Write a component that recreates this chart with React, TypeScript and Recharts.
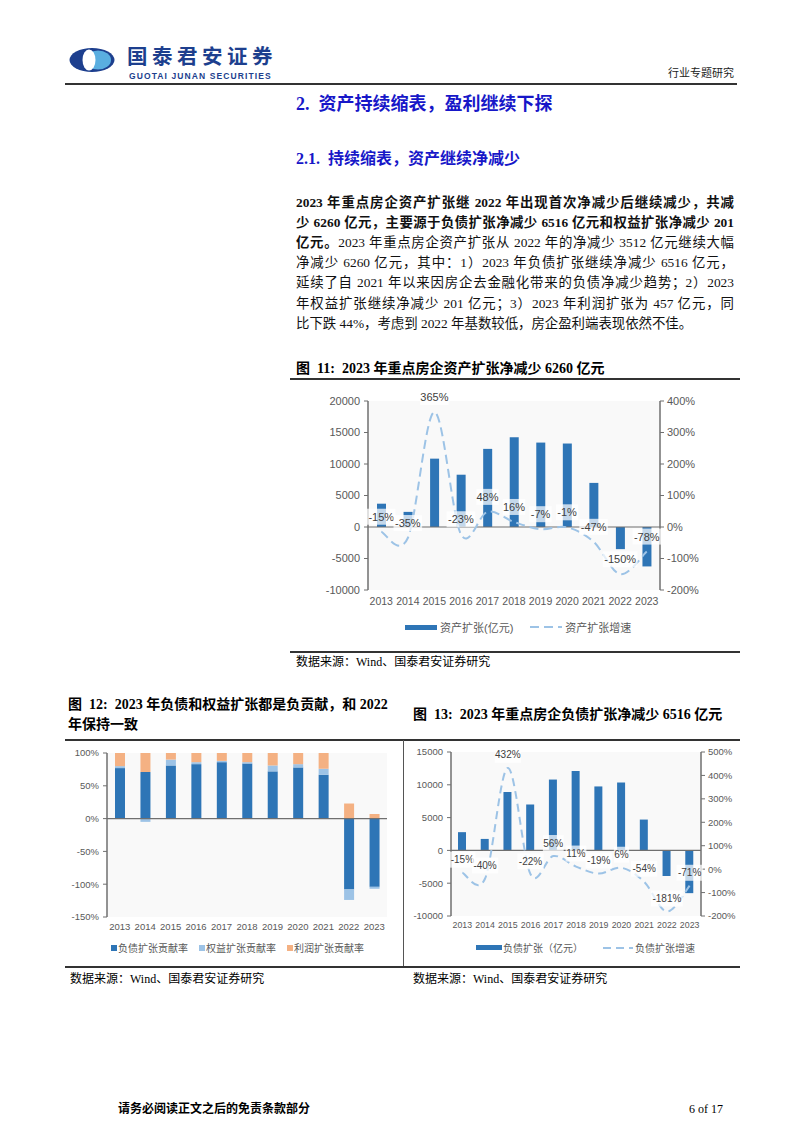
import React from 'react'
import {
  ComposedChart, BarChart, Bar, Line, XAxis, YAxis, CartesianGrid,
  ReferenceLine, LabelList,
} from 'recharts'

// ---- data ----
const years = ['2013', '2014', '2015', '2016', '2017', '2018', '2019', '2020', '2021', '2022', '2023']

// 图11 资产扩张 (亿元) / 增速 (%)
const assetExpansion = [3700, 2400, 10850, 8300, 12400, 14250, 13400, 13250, 7000, -3512, -6260]
const assetGrowth = [-15, -35, 365, -23, 48, 16, -7, -1, -47, -150, -78]

// 图12 贡献率 (%)
const liabShare = [77, 71, 81, 83, 86, 84, 72, 78, 67, -108, -104]
const equityShare = [3, -5, 9, 3, 2, 2, 9, 5, 9, -16, -3]
const profitShare = [20, 29, 10, 14, 12, 14, 19, 17, 24, 23, 7]

// 图13 负债扩张 (亿元) / 增速 (%)
const liabExpansion = [2780, 1750, 8900, 7000, 10800, 12100, 9750, 10350, 4700, -3900, -6516]
const liabGrowth = [-15, -40, 432, -22, 56, 11, -19, 6, -54, -181, -71]

const leftTicks11 = [-10000, -5000, 0, 5000, 10000, 15000, 20000]
const rightTicks11 = [-200, -100, 0, 100, 200, 300, 400]
const ticks12 = [-150, -100, -50, 0, 50, 100]
const leftTicks13 = [-10000, -5000, 0, 5000, 10000, 15000]
const rightTicks13 = [-200, -100, 0, 100, 200, 300, 400, 500]

const assetData = years.map((year, i) => ({ year, asset: assetExpansion[i], growth: assetGrowth[i] }))
const shareData = years.map((year, i) => ({ year, liab: liabShare[i], equity: equityShare[i], profit: profitShare[i] }))
const liabData = years.map((year, i) => ({ year, liab: liabExpansion[i], growth: liabGrowth[i] }))

const BLUE = '#2e75b6'
const LIGHT = '#9dc3e6'
const ORANGE = '#f4b183'
const AXIS = '#6f6f6f'
const TICK = '#595959'
const PLOT_BG = '#f9f9f9'
const SANS = '"Liberation Sans", Arial, "Noto Sans CJK SC", sans-serif'
const SERIF = '"Liberation Serif", "Times New Roman", "Noto Sans CJK SC", serif'

// Excel-style smoothed line (Catmull-Rom through the points)
function excelSmooth(context: any) {
  let pts: number[][] = []
  return {
    areaStart() {},
    areaEnd() {},
    lineStart() { pts = [] },
    point(x: number, y: number) { pts.push([+x, +y]) },
    lineEnd() {
      if (!pts.length) return
      context.moveTo(pts[0][0], pts[0][1])
      for (let i = 0; i < pts.length - 1; i++) {
        const p0 = pts[i - 1] || pts[i]
        const p1 = pts[i]
        const p2 = pts[i + 1]
        const p3 = pts[i + 2] || p2
        const t = 1 / 6
        context.bezierCurveTo(
          p1[0] + (p2[0] - p0[0]) * t, p1[1] + (p2[1] - p0[1]) * t,
          p2[0] - (p3[0] - p1[0]) * t, p2[1] - (p3[1] - p1[1]) * t,
          p2[0], p2[1],
        )
      }
    },
  }
}

function boxLabel(dy: number, fontSize: number) {
  return (props: any) => {
    const x = props.x ?? props.viewBox?.x
    const y = props.y ?? props.viewBox?.y
    if (x == null || y == null) return null
    const text = `${props.value}%`
    const w = text.length * fontSize * 0.56 + 4
    const cy = y - dy
    return (
      <g>
        <rect x={x - w / 2} y={cy - 8} width={w} height={16} fill="#fff" fillOpacity={0.72} />
        <text x={x} y={cy} textAnchor="middle" dominantBaseline="central" fontSize={fontSize} fill="#404040" fontFamily={SANS}>
          {text}
        </text>
      </g>
    )
  }
}

const pct = (v: number) => `${v}%`

function T({ x, y, size = 14, bold = false, color = '#000', font = SERIF, children, style }: any) {
  return (
    <div style={{
      position: 'absolute', left: x, top: y - size * 0.65, fontSize: size, lineHeight: `${size * 1.3}px`,
      fontWeight: bold ? 700 : 400, color, fontFamily: font, whiteSpace: 'nowrap', ...style,
    }}>
      {children}
    </div>
  )
}

function HLine({ x1, x2, y, w = 1.5, c = '#333' }: any) {
  return <div style={{ position: 'absolute', left: x1, top: y - w / 2, width: x2 - x1, height: w, background: c }} />
}

function Para({ y, bold, children, last }: any) {
  return (
    <div style={{
      position: 'absolute', left: 296, top: y - 10, width: 438, fontSize: 13.4, lineHeight: '20px',
      fontFamily: SERIF, fontWeight: bold ? 700 : 400, color: '#111',
      textAlign: 'justify', textAlignLast: last ? 'left' : 'justify',
    }}>
      {children}
    </div>
  )
}

function AssetChart() {
  return (
    <ComposedChart width={450} height={230} data={assetData} margin={{ top: 16, right: 0, left: 0, bottom: 5 }}>
      <CartesianGrid horizontal={false} vertical={false} fill={PLOT_BG} />
      <XAxis dataKey="year" interval={0} axisLine={false} tickLine={false} height={20}
             tick={{ fontSize: 10.5, fill: TICK, fontFamily: SANS }} />
      <YAxis width={78} domain={[-10000, 20000]} ticks={leftTicks11} interval={0}
             axisLine={{ stroke: AXIS, strokeWidth: 1.5 }} tickLine={{ stroke: AXIS }} tickSize={4} tickMargin={4}
             tick={{ fontSize: 11, fill: TICK, fontFamily: SANS }} />
      <YAxis yAxisId="right" orientation="right" width={80} domain={[-200, 400]} ticks={rightTicks11} interval={0}
             tickFormatter={pct} axisLine={{ stroke: AXIS, strokeWidth: 1.5 }} tickLine={{ stroke: AXIS }}
             tickSize={4} tickMargin={3} tick={{ fontSize: 11, fill: TICK, fontFamily: SANS }} />
      <ReferenceLine y={0} stroke={AXIS} strokeWidth={1.2} />
      <Bar dataKey="asset" fill={BLUE} barSize={9} isAnimationActive={false} />
      <Line yAxisId="right" dataKey="growth" type={excelSmooth as any} stroke={LIGHT} strokeWidth={2}
            strokeDasharray="9 5" dot={false} activeDot={false} isAnimationActive={false}>
        <LabelList dataKey="growth" content={boxLabel(15, 11)} />
      </Line>
    </ComposedChart>
  )
}

function ShareChart() {
  return (
    <BarChart width={335} height={200} data={shareData} stackOffset="sign" margin={{ top: 11, right: 13, left: 0, bottom: 5 }}>
      <CartesianGrid horizontal={false} vertical={false} fill={PLOT_BG} />
      <XAxis dataKey="year" interval={0} axisLine={false} tickLine={false} height={20} tickMargin={0}
             tick={{ fontSize: 9.5, fill: TICK, fontFamily: SANS }} />
      <YAxis width={42} domain={[-150, 100]} ticks={ticks12} interval={0} tickFormatter={pct}
             axisLine={{ stroke: AXIS, strokeWidth: 1.5 }} tickLine={{ stroke: AXIS }} tickSize={4} tickMargin={4}
             tick={{ fontSize: 9.5, fill: TICK, fontFamily: SANS }} />
      <ReferenceLine y={0} stroke={AXIS} strokeWidth={1.2} />
      <Bar dataKey="liab" stackId="a" fill={BLUE} barSize={10} isAnimationActive={false} />
      <Bar dataKey="equity" stackId="a" fill={LIGHT} barSize={10} isAnimationActive={false} />
      <Bar dataKey="profit" stackId="a" fill={ORANGE} barSize={10} isAnimationActive={false} />
    </BarChart>
  )
}

function LiabChart() {
  return (
    <ComposedChart width={335} height={200} data={liabData} margin={{ top: 10, right: 0, left: 0, bottom: 6 }}>
      <CartesianGrid horizontal={false} vertical={false} fill={PLOT_BG} />
      <XAxis dataKey="year" interval={0} axisLine={false} tickLine={false} height={20} tickMargin={0}
             tick={{ fontSize: 8.8, fill: TICK, fontFamily: SANS }} />
      <YAxis width={46} domain={[-10000, 15000]} ticks={leftTicks13} interval={0}
             axisLine={{ stroke: AXIS, strokeWidth: 1.5 }} tickLine={{ stroke: AXIS }} tickSize={4} tickMargin={4}
             tick={{ fontSize: 9.5, fill: TICK, fontFamily: SANS }} />
      <YAxis yAxisId="right" orientation="right" width={39} domain={[-200, 500]} ticks={rightTicks13} interval={0}
             tickFormatter={pct} axisLine={{ stroke: AXIS, strokeWidth: 1.5 }} tickLine={{ stroke: AXIS }}
             tickSize={4} tickMargin={3} tick={{ fontSize: 9.5, fill: TICK, fontFamily: SANS }} />
      <ReferenceLine y={0} stroke={AXIS} strokeWidth={1.2} />
      <Bar dataKey="liab" fill={BLUE} barSize={8} isAnimationActive={false} />
      <Line yAxisId="right" dataKey="growth" type={excelSmooth as any} stroke={LIGHT} strokeWidth={2}
            strokeDasharray="8 5" dot={false} activeDot={false} isAnimationActive={false}>
        <LabelList dataKey="growth" content={boxLabel(13, 10)} />
      </Line>
    </ComposedChart>
  )
}

const legendText = { fontFamily: SANS, fontSize: 11, color: TICK }

function Logo() {
  return (
    <svg width={46} height={26} style={{ position: 'absolute', left: 69, top: 47 }}>
      <ellipse cx={23} cy={13} rx={22.5} ry={12} fill="#1d3f8e" />
      <ellipse cx={29} cy={13} rx={13} ry={9.5} fill="#5aaee0" />
      <ellipse cx={20} cy={13} rx={6.5} ry={10.5} fill="#fff" />
    </svg>
  )
}

export default function App() {
  return (
    <div style={{ position: 'absolute', left: 0, top: 0, width: 802, height: 1133, background: '#fff', fontFamily: SERIF }}>
      {/* header */}
      <Logo />
      <T x={127} y={55} size={20.5} bold color="#1d3f8e" font={'"Noto Sans CJK SC", sans-serif'} style={{ letterSpacing: 4.5 }}>国泰君安证券</T>
      <T x={129} y={76.5} size={8.5} bold color="#1d3f8e" font={SANS} style={{ letterSpacing: 1.1 }}>GUOTAI JUNAN SECURITIES</T>
      <T x={668} y={73} size={11} color="#222">行业专题研究</T>
      <HLine x1={65} x2={737} y={84} />

      {/* section titles */}
      <T x={296} y={105} size={18} bold color="#1717c8">2.&nbsp;&nbsp;资产持续缩表，盈利继续下探</T>
      <T x={296} y={159} size={16} bold color="#1717c8">2.1.&nbsp;&nbsp;持续缩表，资产继续净减少</T>

      {/* paragraph */}
      <Para y={203} bold>2023 年重点房企资产扩张继 2022 年出现首次净减少后继续减少，共减</Para>
      <Para y={223} bold>少 6260 亿元，主要源于负债扩张净减少 6516 亿元和权益扩张净减少 201</Para>
      <Para y={243}><b>亿元。</b>2023 年重点房企资产扩张从 2022 年的净减少 3512 亿元继续大幅</Para>
      <Para y={263}>净减少 6260 亿元，其中：1）2023 年负债扩张继续净减少 6516 亿元，</Para>
      <Para y={283}>延续了自 2021 年以来因房企去金融化带来的负债净减少趋势；2）2023</Para>
      <Para y={304}>年权益扩张继续净减少 201 亿元；3）2023 年利润扩张为 457 亿元，同</Para>
      <Para y={324} last>比下跌 44%，考虑到 2022 年基数较低，房企盈利端表现依然不佳。</Para>

      {/* figure 11 */}
      <T x={296} y={369} size={14} bold>图&nbsp;&nbsp;11:&nbsp;&nbsp;2023 年重点房企资产扩张净减少 6260 亿元</T>
      <HLine x1={290} x2={740} y={379} />
      <div style={{ position: 'absolute', left: 290, top: 385 }}>
        <AssetChart />
      </div>
      <div style={{ position: 'absolute', left: 405, top: 619, display: 'flex', alignItems: 'center', ...legendText }}>
        <span style={{ width: 32, height: 5, background: BLUE, marginRight: 3 }} />
        <span>资产扩张(亿元)</span>
        <svg width={32} height={6} style={{ marginLeft: 17, marginRight: 3 }}>
          <line x1={0} y1={3} x2={32} y2={3} stroke={LIGHT} strokeWidth={2} strokeDasharray="9 5" />
        </svg>
        <span>资产扩张增速</span>
      </div>
      <HLine x1={290} x2={740} y={652} />
      <T x={296} y={663} size={12}>数据来源：Wind、国泰君安证券研究</T>

      {/* figures 12 & 13 titles */}
      <T x={68} y={705} size={14} bold>图&nbsp;&nbsp;12:&nbsp;&nbsp;2023 年负债和权益扩张都是负贡献，和 2022</T>
      <T x={68} y={725} size={14} bold>年保持一致</T>
      <T x={413} y={715} size={14} bold>图&nbsp;&nbsp;13:&nbsp;&nbsp;2023 年重点房企负债扩张净减少 6516 亿元</T>
      <HLine x1={65} x2={740} y={740} />
      <div style={{ position: 'absolute', left: 403, top: 740, width: 1, height: 227, background: '#555' }} />

      <div style={{ position: 'absolute', left: 65, top: 742 }}>
        <ShareChart />
      </div>
      <div style={{ position: 'absolute', left: 111, top: 940, display: 'flex', alignItems: 'center', fontFamily: SANS, fontSize: 10, color: TICK }}>
        <span style={{ width: 6, height: 6, background: BLUE, marginRight: 1 }} />
        <span>负债扩张贡献率</span>
        <span style={{ width: 6, height: 6, background: LIGHT, marginLeft: 11, marginRight: 1 }} />
        <span>权益扩张贡献率</span>
        <span style={{ width: 6, height: 6, background: ORANGE, marginLeft: 11, marginRight: 1 }} />
        <span>利润扩张贡献率</span>
      </div>

      <div style={{ position: 'absolute', left: 405, top: 742 }}>
        <LiabChart />
      </div>
      <div style={{ position: 'absolute', left: 476, top: 940, display: 'flex', alignItems: 'center', fontFamily: SANS, fontSize: 10, color: TICK }}>
        <span style={{ width: 26, height: 5, background: BLUE, marginRight: 1 }} />
        <span>负债扩张（亿元）</span>
        <svg width={30} height={6} style={{ marginLeft: 20, marginRight: 2 }}>
          <line x1={0} y1={3} x2={30} y2={3} stroke={LIGHT} strokeWidth={2} strokeDasharray="8 5" />
        </svg>
        <span>负债扩张增速</span>
      </div>

      <HLine x1={65} x2={740} y={967} />
      <T x={70} y={980} size={12}>数据来源：Wind、国泰君安证券研究</T>
      <T x={413} y={980} size={12}>数据来源：Wind、国泰君安证券研究</T>

      {/* footer */}
      <T x={118} y={1110} size={12} bold>请务必阅读正文之后的免责条款部分</T>
      <T x={689} y={1110} size={12}>6 of 17</T>
    </div>
  )
}
